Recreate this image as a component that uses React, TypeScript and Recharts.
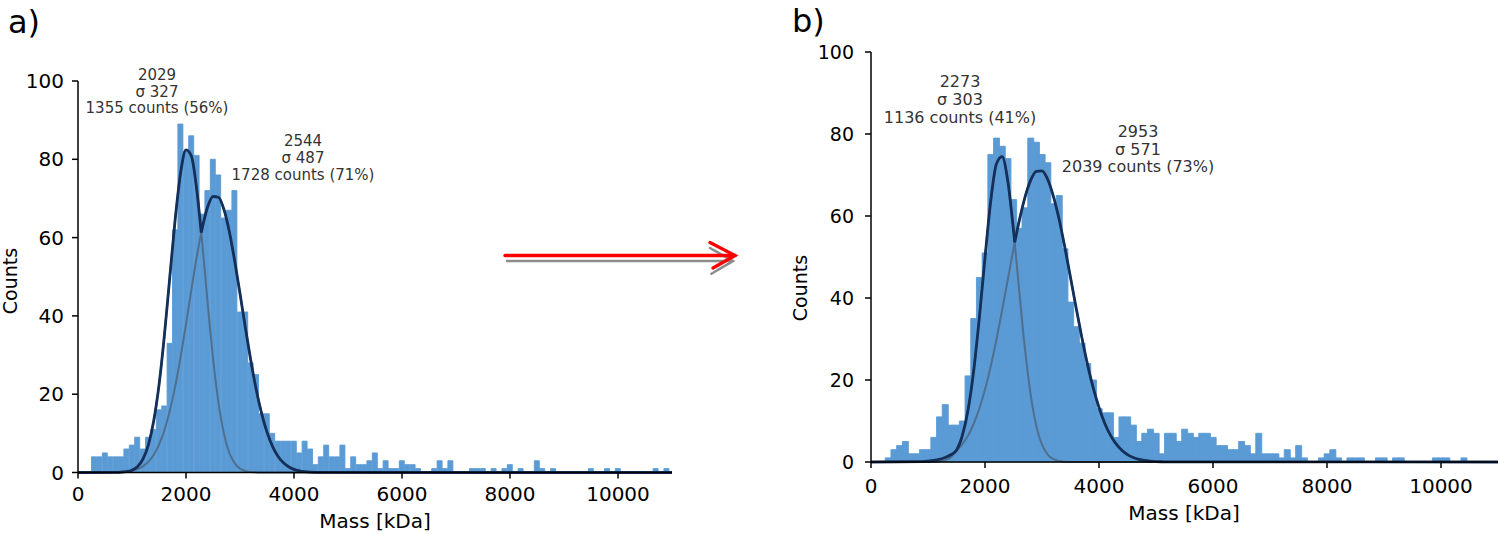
import { Bar, ComposedChart, Line, XAxis, YAxis } from "recharts";

const FONT = "DejaVu Sans";
const BAR_BLUE = "#5b9bd5";
const FIT_DARK = "#14305a";
const FIT_LIGHT = "#4f6f8f";

const BIN_WIDTH = 100; // kDa, bins centred on 0, 100, 200 ... 10900
const MASS_TICKS = [0, 2000, 4000, 6000, 8000, 10000];
const COUNT_TICKS = [0, 20, 40, 60, 80, 100];

// a) histogram counts
const COUNTS_A = [
  0, 0, 0, 4, 4, 5, 4, 4, 4, 6,
  7, 9, 6, 9, 11, 16, 17, 33, 62, 89,
  82, 86, 81, 66, 72, 80, 76, 65, 67, 72,
  41, 41, 28, 25, 15, 15, 10, 8, 8, 8,
  8, 5, 8, 6, 2, 4, 7, 4, 4, 7,
  1, 4, 2, 2, 3, 5, 1, 3, 1, 1,
  3, 2, 2, 1, 0, 0, 1, 3, 1, 3,
  0, 0, 0, 1, 1, 1, 0, 1, 0, 1,
  2, 0, 1, 0, 0, 3, 1, 0, 1, 0,
  0, 0, 0, 0, 0, 1, 0, 0, 1, 0,
  1, 0, 0, 0, 0, 0, 0, 1, 0, 1,
];

// b) histogram counts
const COUNTS_B = [
  0, 0, 0, 1, 3, 4, 5, 2, 2, 3,
  3, 6, 11, 14, 9, 9, 10, 21, 35, 45,
  51, 75, 79, 77, 74, 64, 57, 62, 79, 78,
  75, 73, 63, 65, 52, 39, 33, 29, 24, 20,
  13, 12, 12, 6, 11, 11, 9, 5, 7, 8,
  7, 2, 7, 7, 5, 8, 7, 6, 7, 7,
  6, 4, 4, 3, 3, 5, 4, 2, 7, 2,
  2, 2, 1, 3, 1, 4, 1, 0, 0, 1,
  2, 3, 1, 0, 1, 1, 1, 0, 0, 1,
  1, 0, 1, 1, 0, 0, 0, 0, 0, 1,
  1, 1, 0, 0, 1, 0, 0, 0, 0, 0,
];

// fitted gaussians (x: 0, 600..4600 step 100, 11000)
const FIT_X_A = [0, ...Array.from({ length: 41 }, (_, i) => 600 + i * 100), 11000];
const FIT1_A = [
  0,
  0, 0.02, 0.07, 0.21, 0.59, 1.46, 3.33, 6.89, 13.0, 22.3,
  35.0, 49.9, 64.7, 76.5, 82.4, 80.8, 72.1, 58.7, 43.4, 29.3,
  18.0, 10.1, 5.1, 2.4, 1.0, 0.4, 0.1, 0.04, 0, 0,
  0, 0, 0, 0, 0, 0, 0, 0, 0, 0, 0,
  0,
];
const FIT2_A = [
  0,
  0.02, 0.05, 0.12, 0.24, 0.47, 0.87, 1.57, 2.71, 4.49, 7.11,
  10.8, 15.8, 22.0, 29.5, 37.9, 46.7, 55.2, 62.4, 67.8, 70.5,
  70.3, 67.3, 61.7, 54.2, 45.7, 36.9, 28.6, 21.2, 15.1, 10.3,
  6.75, 4.23, 2.54, 1.47, 0.81, 0.43, 0.22, 0.11, 0.05, 0.02, 0.01,
  0,
];
const CROSS_A = { x: 2282, y: 61.3 };

// (x: 0, 900..5200 step 100, 11000)
const FIT_X_B = [0, ...Array.from({ length: 44 }, (_, i) => 900 + i * 100), 11000];
const FIT1_B = [
  0,
  0, 0.01, 0.04, 0.14, 0.43, 1.18, 2.89, 6.34, 12.5, 22.1,
  35.1, 49.8, 63.6, 72.7, 74.5, 68.5, 56.5, 41.8, 27.7, 16.5,
  8.79, 4.21, 1.8, 0.69, 0.24, 0.07, 0, 0, 0, 0,
  0, 0, 0, 0, 0, 0, 0, 0, 0, 0,
  0, 0, 0, 0,
  0,
];
const FIT2_B = [
  0,
  0.11, 0.21, 0.37, 0.64, 1.08, 1.76, 2.79, 4.3, 6.41, 9.27,
  13.0, 17.7, 23.3, 29.8, 37.0, 44.5, 52.0, 58.8, 64.5, 68.7,
  70.9, 71.0, 68.9, 64.8, 59.2, 52.4, 45.0, 37.5, 30.3, 23.7,
  18.0, 13.3, 9.47, 6.56, 4.4, 2.87, 1.81, 1.11, 0.66, 0.38,
  0.21, 0.11, 0.06, 0.03,
  0,
];
const CROSS_B = { x: 2522, y: 53.6 };

const PEAKS_A = [
  ["2029", "σ 327", "1355 counts (56%)"],
  ["2544", "σ 487", "1728 counts (71%)"],
];
const PEAKS_B = [
  ["2273", "σ 303", "1136 counts (41%)"],
  ["2953", "σ 571", "2039 counts (73%)"],
];

const histRows = (counts: number[]) =>
  counts.map((c, i) => ({ x: i * BIN_WIDTH, count: c }));

const curve = (xs: number[], ys: number[]) => xs.map((x, i) => ({ x, y: ys[i] }));

// outer envelope of the two fits, split at the crossing so the cusp stays sharp
function envelope(xs: number[], f1: number[], f2: number[], cross: { x: number; y: number }) {
  const env = xs.map((x, i) => ({ x, y: Math.max(f1[i], f2[i]) }));
  return [
    [...env.filter((p) => p.x < cross.x), cross],
    [cross, ...env.filter((p) => p.x > cross.x)],
  ];
}

type PanelProps = {
  counts: number[];
  fitX: number[];
  fit1: number[];
  fit2: number[];
  cross: { x: number; y: number };
  width: number;
  top: number;
  right: number;
  yAxisWidth: number;
  xAxisHeight: number;
  yTickMargin: number;
  xTickMargin: number;
  yTickFont: number;
};

function Panel(p: PanelProps) {
  const [left, right] = envelope(p.fitX, p.fit1, p.fit2, p.cross);
  // the fit curves sit on their own (hidden) x axis so their sample spacing
  // does not shrink the histogram's bar width
  const lineProps = {
    xAxisId: "fit",
    dataKey: "y",
    dot: false,
    activeDot: false,
    isAnimationActive: false,
    type: "monotone" as const,
  };
  return (
    <ComposedChart
      width={p.width}
      height={534}
      data={histRows(p.counts)}
      margin={{ top: p.top, right: p.right, bottom: 0, left: 0 }}
      barCategoryGap={0}
      barGap={0}
      style={{ fontFamily: FONT }}
    >
      <XAxis
        type="number"
        dataKey="x"
        domain={[0, 11000]}
        allowDataOverflow
        ticks={MASS_TICKS}
        interval={0}
        height={p.xAxisHeight}
        tickSize={6}
        tickMargin={p.xTickMargin}
        tick={{ fill: "#000", fontSize: 20 }}
        axisLine={{ stroke: "#000", strokeWidth: 1.5 }}
        tickLine={{ stroke: "#000", strokeWidth: 1.5 }}
      />
      <XAxis xAxisId="fit" type="number" dataKey="x" domain={[0, 11000]} allowDataOverflow hide />
      <YAxis
        type="number"
        domain={[0, 100]}
        ticks={COUNT_TICKS}
        interval={0}
        width={p.yAxisWidth}
        tickSize={6}
        tickMargin={p.yTickMargin}
        tick={{ fill: "#000", fontSize: p.yTickFont }}
        axisLine={{ stroke: "#000", strokeWidth: 1.5 }}
        tickLine={{ stroke: "#000", strokeWidth: 1.5 }}
      />
      <Bar
        dataKey="count"
        fill={BAR_BLUE}
        stroke={BAR_BLUE}
        strokeWidth={0.9}
        isAnimationActive={false}
      />
      <Line {...lineProps} data={curve(p.fitX, p.fit1)} stroke={FIT_LIGHT} strokeWidth={2} />
      <Line {...lineProps} data={curve(p.fitX, p.fit2)} stroke={FIT_LIGHT} strokeWidth={2} />
      <Line {...lineProps} data={left} stroke={FIT_DARK} strokeWidth={2.8} />
      <Line {...lineProps} data={right} stroke={FIT_DARK} strokeWidth={2.8} />
    </ComposedChart>
  );
}

function PeakText({ lines, x, y, size, gap }: { lines: string[]; x: number; y: number; size: number; gap: number }) {
  return (
    <>
      {lines.map((t, i) => (
        <text key={i} x={x} y={y + i * gap} textAnchor="middle" fontSize={size} fill="#333">
          {t}
        </text>
      ))}
    </>
  );
}

export default function App() {
  return (
    <div style={{ position: "absolute", left: 0, top: 0, width: 1500, height: 534, background: "#fff", fontFamily: FONT }}>
      <div style={{ position: "absolute", left: 0, top: 0 }}>
        <Panel
          counts={COUNTS_A}
          fitX={FIT_X_A}
          fit1={FIT1_A}
          fit2={FIT2_A}
          cross={CROSS_A}
          width={690}
          top={81}
          right={18}
          yAxisWidth={78}
          xAxisHeight={61.5}
          yTickMargin={8}
          xTickMargin={8}
          yTickFont={20}
        />
      </div>
      <div style={{ position: "absolute", left: 800, top: 0 }}>
        <Panel
          counts={COUNTS_B}
          fitX={FIT_X_B}
          fit1={FIT1_B}
          fit2={FIT2_B}
          cross={CROSS_B}
          width={700}
          top={52}
          right={2}
          yAxisWidth={71}
          xAxisHeight={72}
          yTickMargin={11}
          xTickMargin={11}
          yTickFont={19}
        />
      </div>
      <svg
        width={1500}
        height={534}
        style={{ position: "absolute", left: 0, top: 0, pointerEvents: "none", fontFamily: FONT }}
      >
        <text x={8} y={33} fontSize={32} fill="#000">a)</text>
        <text x={792} y={32} fontSize={32} fill="#000">b)</text>

        <text transform="translate(17,281) rotate(-90)" textAnchor="middle" fontSize={19} fill="#000">Counts</text>
        <text transform="translate(807,288) rotate(-90)" textAnchor="middle" fontSize={19} fill="#000">Counts</text>
        <text x={375} y={528} textAnchor="middle" fontSize={20} fill="#000">Mass [kDa]</text>
        <text x={1184} y={520} textAnchor="middle" fontSize={20} fill="#000">Mass [kDa]</text>

        <PeakText lines={PEAKS_A[0]} x={157} y={80} size={15} gap={16.6} />
        <PeakText lines={PEAKS_A[1]} x={303} y={146} size={15} gap={17} />
        <PeakText lines={PEAKS_B[0]} x={960} y={87} size={16} gap={17.8} />
        <PeakText lines={PEAKS_B[1]} x={1138} y={137} size={16} gap={17.5} />

        {/* arrow between the panels, with its grey shadow */}
        <g fill="none" strokeLinecap="round">
          <line x1={507} y1={261} x2={732} y2={261} stroke="#8c8c8c" strokeWidth={2.5} strokeDasharray="1.5 1" />
          <polyline points="710,248 733,261 711,274" stroke="#8c8c8c" strokeWidth={2.5} strokeDasharray="1.5 1" />
          <line x1={505} y1={255.5} x2={735} y2={255.5} stroke="#ff0000" strokeWidth={3.3} />
          <polyline points="710,242.5 735,255.5 713,268" stroke="#ff0000" strokeWidth={3.3} />
        </g>
      </svg>
    </div>
  );
}
